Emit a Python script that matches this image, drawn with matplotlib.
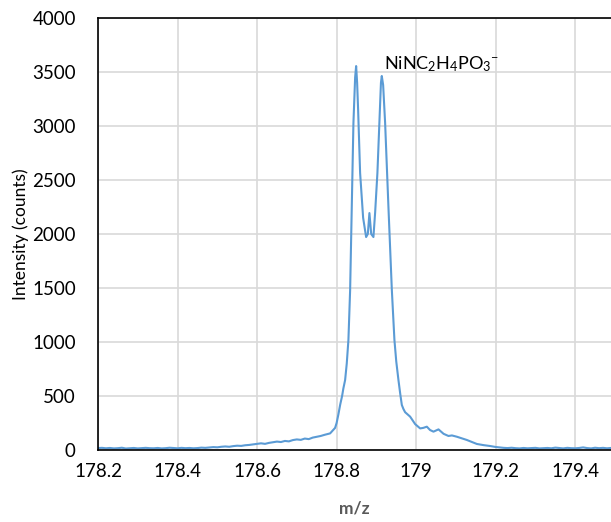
import matplotlib
matplotlib.use("Agg")
import matplotlib.pyplot as plt

# spectrum around the NiNC2H4PO3- peak, m/z vs counts
mz = [
    178.20, 178.21, 178.22, 178.23, 178.24, 178.25, 178.26, 178.27, 178.28, 178.29,
    178.30, 178.31, 178.32, 178.33, 178.34, 178.35, 178.36, 178.37, 178.38, 178.39,
    178.40, 178.41, 178.42, 178.43, 178.44, 178.45, 178.46, 178.47, 178.48, 178.49,
    178.50, 178.51, 178.52, 178.53, 178.54, 178.55, 178.56, 178.57, 178.58, 178.59,
    178.60, 178.61, 178.62, 178.63, 178.64, 178.65, 178.66, 178.67, 178.68, 178.69,
    178.70, 178.71, 178.72, 178.73, 178.74, 178.75, 178.76, 178.77, 178.78,
    178.7837, 178.7962, 178.8000, 178.8045, 178.8090, 178.8138, 178.8170, 178.8214,
    178.8255, 178.8297, 178.8340, 178.8382,
    178.8423, 178.8466, 178.8491, 178.8516, 178.8541, 178.8591, 178.8667, 178.8742,
    178.8785, 178.8825, 178.8870, 178.8926, 178.8969, 178.9026, 178.9094, 178.9115,
    178.9136, 178.9170, 178.9220, 178.9303, 178.9389, 178.9454, 178.9500, 178.9555,
    178.9600, 178.9640, 178.9680,
    178.9723, 178.9849, 178.9975, 179.0101, 179.0180, 179.0269, 179.0350, 179.0436,
    179.0562, 179.0690, 179.0813, 179.0900, 179.1024, 179.1150, 179.1275, 179.1400,
    179.1527, 179.1700, 179.1862,
    179.20, 179.21, 179.22, 179.23, 179.24, 179.25, 179.26, 179.27, 179.28, 179.29,
    179.30, 179.31, 179.32, 179.33, 179.34, 179.35, 179.36, 179.37, 179.38, 179.39,
    179.40, 179.41, 179.42, 179.43, 179.44, 179.45, 179.46, 179.47, 179.48, 179.49,
]
counts = [
    18, 20, 16, 19, 15, 17, 21, 14, 16, 19,
    15, 18, 20, 17, 16, 19, 15, 17, 21, 18,
    16, 20, 17, 19, 16, 18, 22, 20, 24, 27,
    25, 30, 33, 30, 36, 40, 38, 44, 47, 52,
    58, 62, 57, 66, 72, 78, 74, 84, 80, 92,
    98, 94, 106, 101, 115, 123, 130, 141, 150,
    154, 205, 250, 330, 420, 500, 570, 648,
    800, 1019, 1481, 2253,
    3028, 3450, 3555, 3400, 3150, 2565, 2150, 1972,
    2000, 2194, 2000, 1972, 2200, 2565, 3200, 3400,
    3463, 3380, 3028, 2253, 1481, 1019, 820, 648,
    520, 417, 380,
    350, 309, 240, 200, 205, 216, 185, 170,
    191, 150, 130, 135, 123, 108, 93, 75,
    56, 45, 37,
    28, 24, 20, 18, 21, 17, 15, 19, 16, 18,
    20, 15, 17, 19, 16, 22, 18, 15, 20, 17,
    16, 19, 24, 18, 15, 21, 17, 20, 16, 19,
]

label_text = r"NiNC$_2$H$_4$PO$_3$$^{-}$"
label_pos = (178.9195, 3480)

plt.rcParams["font.family"] = ["Lato", "DejaVu Sans"]
plt.rcParams["mathtext.fontset"] = "custom"
plt.rcParams["mathtext.rm"] = "Lato"
plt.rcParams["mathtext.it"] = "Lato:italic"

fig = plt.figure(figsize=(6.11, 5.22), dpi=100)
ax = fig.add_axes([0.1604, 0.1379, 0.8396, 0.8276])

ax.plot(mz, counts, color="#5B9BD5", linewidth=1.5)

ax.set_xlim(178.2, 179.49)
ax.set_ylim(0, 4000)
ax.set_xticks([178.2, 178.4, 178.6, 178.8, 179.0, 179.2, 179.4])
ax.set_xticklabels(["178.2", "178.4", "178.6", "178.8", "179", "179.2", "179.4"])
ax.set_yticks(range(0, 4001, 500))

ax.grid(True, color="#D9D9D9", linewidth=1.2)
ax.set_axisbelow(True)
ax.tick_params(length=0, labelsize=13.5, pad=9)
ax.tick_params(axis="y", pad=16)

for side in ("left", "bottom", "top"):
    ax.spines[side].set_color("black")
    ax.spines[side].set_linewidth(1.2)
ax.spines["right"].set_visible(False)

ax.set_xlabel("m/z", fontsize=12.5, fontweight="bold", color="#595959", labelpad=15)
ax.set_ylabel("Intensity (counts)", fontsize=12.5, labelpad=2)

ax.text(label_pos[0], label_pos[1], label_text, fontsize=13, ha="left", va="bottom")

fig.savefig("out.png", dpi=100)
